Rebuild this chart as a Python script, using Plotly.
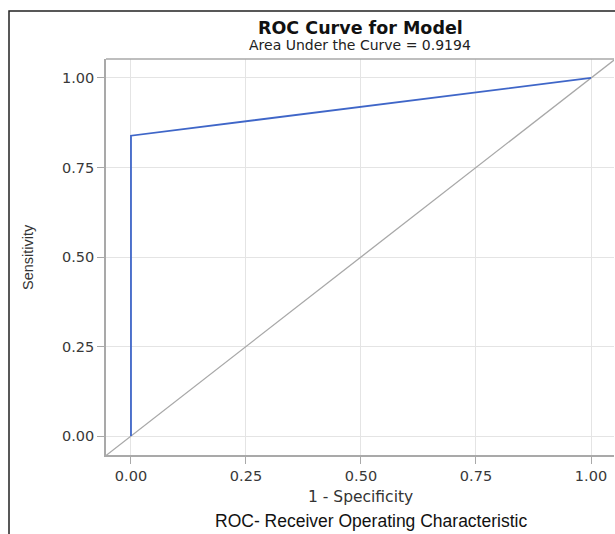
import plotly.graph_objects as go

fpr = [0.0, 0.0, 1.0]
tpr = [0.0, 0.8388, 1.0]
ref_x = [-0.06, 1.06]
ref_y = [-0.06, 1.06]
tick_vals = [0.0, 0.25, 0.5, 0.75, 1.0]
tick_text = ["0.00", "0.25", "0.50", "0.75", "1.00"]

fig = go.Figure()
fig.add_trace(go.Scatter(x=ref_x, y=ref_y, mode="lines",
                         line=dict(color="#a8a8a8", width=1.3), hoverinfo="skip"))
fig.add_trace(go.Scatter(x=fpr, y=tpr, mode="lines",
                         line=dict(color="#3f66c8", width=1.8)))

font = "DejaVu Sans, sans-serif"
arial = "Liberation Sans, Arial, sans-serif"
axis_common = dict(
    tickvals=tick_vals, ticktext=tick_text,
    showgrid=True, gridcolor="#e4e4e4", gridwidth=1,
    zeroline=False, showline=True, linecolor="#a9a9a9", linewidth=1.6,
    ticks="outside", ticklen=7, tickcolor="#a9a9a9", tickwidth=1.3,
    tickfont=dict(family=font, size=14.5, color="#383838"),
    mirror=False,
)
fig.update_xaxes(range=[-0.0543, 1.05], **axis_common)
fig.update_yaxes(range=[-0.053, 1.053], **axis_common)

W, H = 615, 534
L, R, T, B = 106, 1, 59, 79
pw, ph = W - L - R, H - T - B

fig.update_layout(
    width=W, height=H,
    margin=dict(l=L, r=R, t=T, b=B),
    paper_bgcolor="white", plot_bgcolor="white",
    showlegend=False,
    annotations=[
        dict(text="<b>ROC Curve for Model</b>", x=0.5, y=1, xref="paper", yref="paper",
             yshift=31, showarrow=False, xanchor="center", yanchor="middle",
             font=dict(family=font, size=17.5, color="#111111")),
        dict(text="Area Under the Curve = 0.9194", x=0.5, y=1, xref="paper", yref="paper",
             yshift=14, showarrow=False, xanchor="center", yanchor="middle",
             font=dict(family=font, size=14, color="#222222")),
        dict(text="1 - Specificity", x=0.5, y=0, xref="paper", yref="paper",
             yshift=-42, showarrow=False, xanchor="center", yanchor="middle",
             font=dict(family=font, size=15.5, color="#333333")),
        dict(text="Sensitivity", x=(28 - L) / pw, y=0.5, xref="paper", yref="paper",
             textangle=-90, showarrow=False, xanchor="center", yanchor="middle",
             font=dict(family=arial, size=14.5, color="#333333")),
        dict(text="ROC- Receiver Operating Characteristic", x=(371 - L) / pw, y=0,
             xref="paper", yref="paper",
             yshift=-66, showarrow=False, xanchor="center", yanchor="middle",
             font=dict(family=arial, size=17.5, color="#111111")),
    ],
    shapes=[
        dict(type="rect", xref="paper", yref="paper",
             x0=(9 - L) / pw, x1=1.2, y0=-0.5, y1=(H - B - 11) / ph,
             line=dict(color="#222222", width=1.5), fillcolor="rgba(0,0,0,0)", layer="above"),
        dict(type="line", xref="paper", yref="paper", x0=0, x1=1, y0=1, y1=1,
             line=dict(color="#a9a9a9", width=1.6)),
    ],
)

fig.write_html("out.html",
               config={"displayModeBar": False},
               post_script="document.body.style.margin='0';document.body.style.overflow='hidden';")
